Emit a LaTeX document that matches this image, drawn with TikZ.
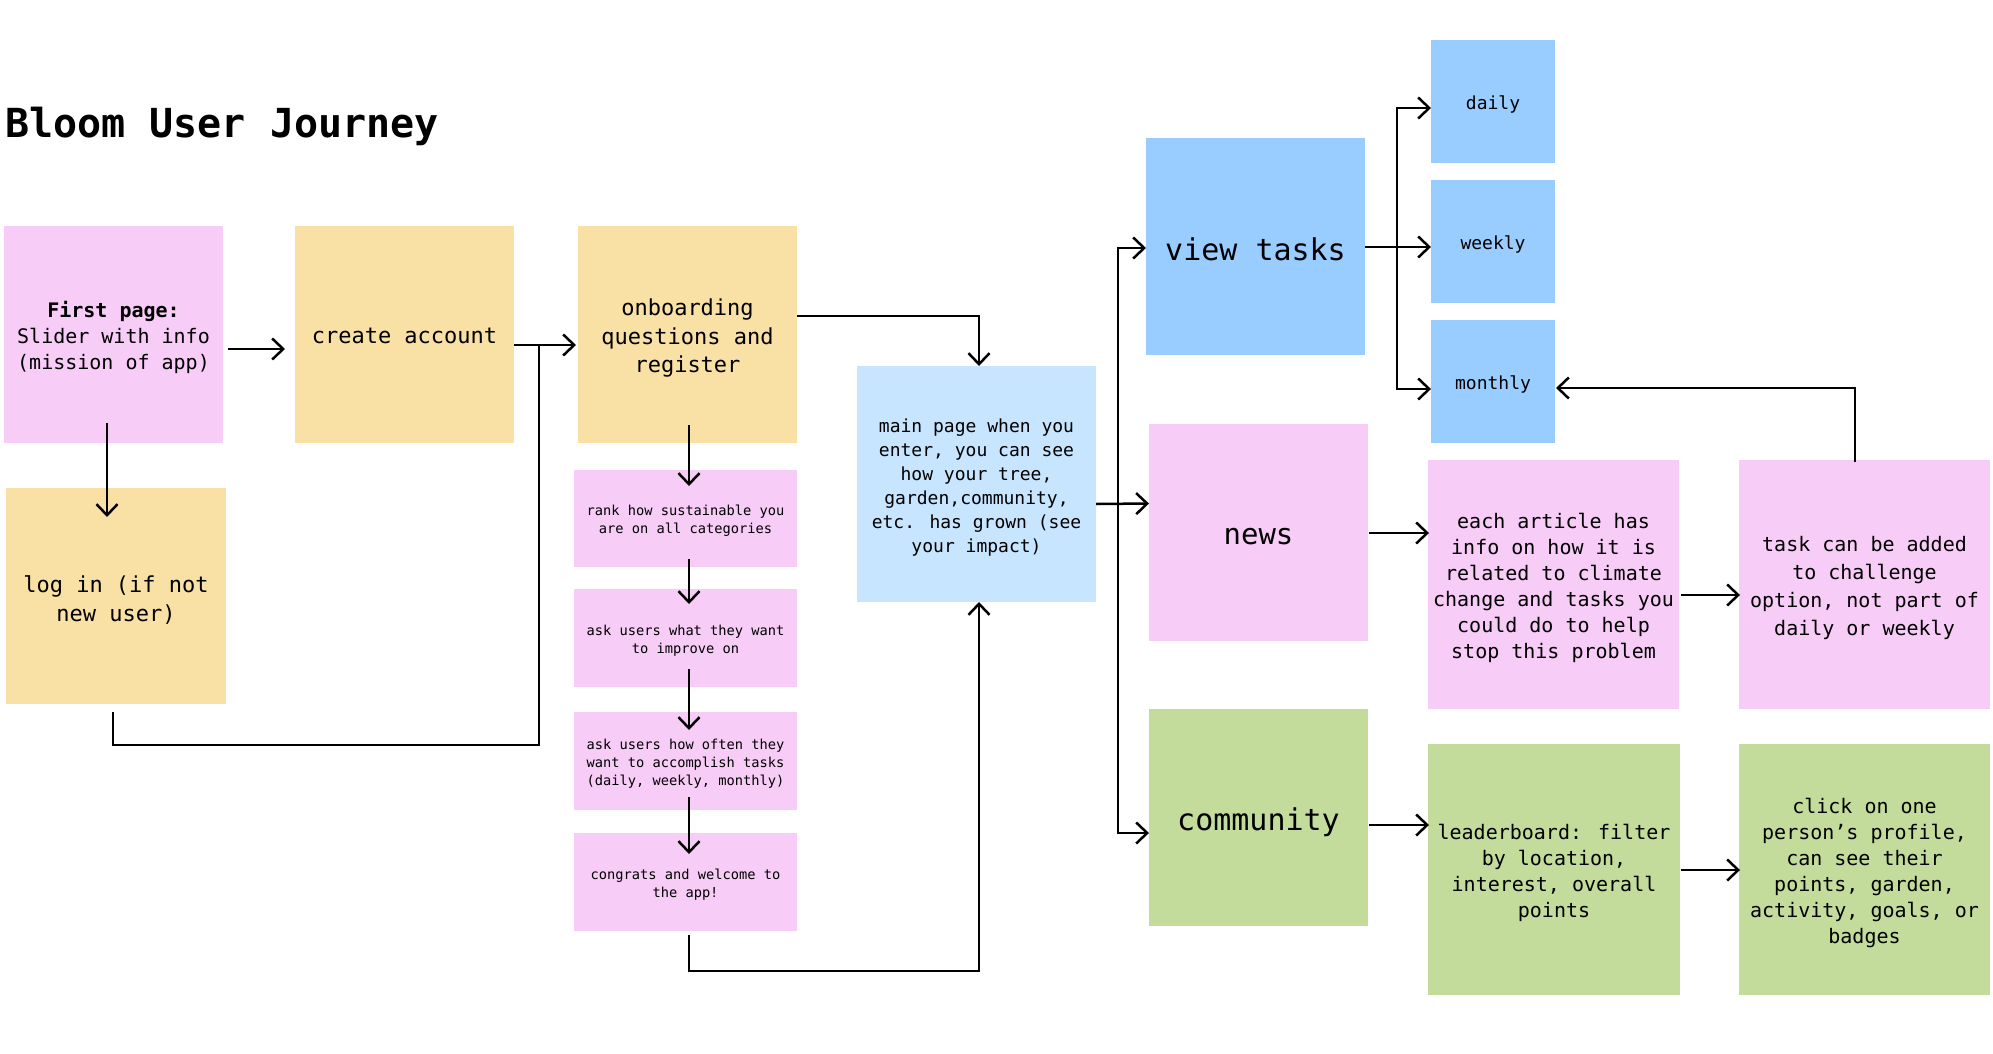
\documentclass[tikz,border=0pt]{standalone}
\usepackage{fontspec}
\setmainfont{DejaVu Sans Mono}
\usetikzlibrary{arrows.meta}
\definecolor{stpink}{HTML}{F7CCF6}
\definecolor{styellow}{HTML}{F9E1A6}
\definecolor{stblue}{HTML}{99CCFF}
\definecolor{stlblue}{HTML}{C7E5FE}
\definecolor{stgreen}{HTML}{C3DC9B}
\newcommand{\tp}{\rule{0pt}{1.1em}}
\tikzset{
  box/.style={anchor=north west, inner sep=0pt, outer sep=0pt, align=center, text=black},
  wire/.style={line width=2.5pt, line join=miter},
  conn/.style={wire, -{Straight Barb[length=11pt,width=21pt]}},
  fbig/.style={font=\fontsize{22}{28.5}\selectfont},
  fmid/.style={font=\fontsize{20}{26}\selectfont},
  fmain/.style={font=\fontsize{18}{24}\selectfont},
  fsmall/.style={font=\fontsize{13.7}{18}\selectfont},
  fhead/.style={font=\fontsize{30}{36}\selectfont}
}
\begin{document}
\begin{tikzpicture}[x=1pt,y=-1pt]
\useasboundingbox (0,0) rectangle (1993,1054);
\fill[white] (0,0) rectangle (1993,1054);

\node[anchor=base west, inner sep=0pt, font=\fontsize{40}{48}\selectfont\bfseries] (title) at (5,138) {Bloom User Journey};

% left column
\node[box, fill=stpink, minimum width=219pt, minimum height=217pt, fmid] (first) at (4,226) {\tp\textbf{First page:}\\Slider with info\\(mission of app)};
\node[box, fill=styellow, minimum width=219pt, minimum height=217pt, fbig] (create) at (295,226) {\rule{0pt}{18pt}create account};
\node[box, fill=styellow, minimum width=219pt, minimum height=217pt, fbig] (onb) at (578,226) {\tp onboarding\\questions and\\register};
\node[box, fill=styellow, minimum width=220pt, minimum height=216pt, font=\fontsize{22}{29}\selectfont] (login) at (6,488) {\tp log in (if not\\new user)};

% onboarding steps
\node[box, fill=stpink, minimum width=223pt, minimum height=97pt, fsmall] (rank) at (574,470) {\tp rank how sustainable you\\are on all categories};
\node[box, fill=stpink, minimum width=223pt, minimum height=98pt, fsmall] (ask1) at (574,589) {\tp ask users what they want\\to improve on};
\node[box, fill=stpink, minimum width=223pt, minimum height=98pt, fsmall] (ask2) at (574,712) {\tp ask users how often they\\want to accomplish tasks\\(daily, weekly, monthly)};
\node[box, fill=stpink, minimum width=223pt, minimum height=98pt, fsmall] (congrats) at (574,833) {\tp congrats and welcome to\\the app!};

% main page
\node[box, fill=stlblue, minimum width=239pt, minimum height=236pt, fmain] (main) at (857,366) {\tp main page when you\\enter, you can see\\how your tree,\\garden,community,\\etc. has grown (see\\your impact)};

% right side
\node[box, fill=stblue, minimum width=219pt, minimum height=217pt, fhead] (view) at (1146,138) {\rule{0pt}{27.8pt}view tasks};
\node[box, fill=stblue, minimum width=124pt, minimum height=123pt, fmain] (daily) at (1431,40) {\tp daily};
\node[box, fill=stblue, minimum width=124pt, minimum height=123pt, fmain] (weekly) at (1431,180) {\tp weekly};
\node[box, fill=stblue, minimum width=124pt, minimum height=123pt, fmain] (monthly) at (1431,320) {\tp monthly};

\node[box, fill=stpink, minimum width=219pt, minimum height=217pt, font=\fontsize{29}{35}\selectfont] (news) at (1149,424) {\rule{0pt}{23.8pt}news};
\node[box, fill=stpink, minimum width=251pt, minimum height=249pt, fmid] (article) at (1428,460) {\tp each article has\\info on how it is\\related to climate\\change and tasks you\\could do to help\\stop this problem};
\node[box, fill=stpink, minimum width=251pt, minimum height=249pt, font=\fontsize{20}{28}\selectfont] (task) at (1739,460) {\tp task can be added\\to challenge\\option, not part of\\daily or weekly};

\node[box, fill=stgreen, minimum width=219pt, minimum height=217pt, fhead] (community) at (1149,709) {\tp community};
\node[box, fill=stgreen, minimum width=252pt, minimum height=251pt, fmid] (leader) at (1428,744) {\tp leaderboard: filter\\by location,\\interest, overall\\points};
\node[box, fill=stgreen, minimum width=251pt, minimum height=251pt, fmid] (click) at (1739,744) {\tp click on one\\person’s profile,\\can see their\\points, garden,\\activity, goals, or\\badges};

% helper coordinates
\coordinate (j1) at (539,745);
\coordinate (j2) at (539,345);
\coordinate (c1) at (979,971);
\coordinate (trunk) at (1118,504);
\coordinate (fork) at (1397,247);

% connectors
\draw[conn] ([xshift=5pt,yshift=-14.5pt]first.east) -- ([xshift=-10pt,yshift=-14.5pt]create.west);
\draw[conn] ([yshift=-10.5pt]create.east) -- ([xshift=-2pt,yshift=-10.5pt]onb.west);
\draw[wire] ([xshift=-3pt,yshift=-8pt]login.south) |- (j1) -- (j2);
\draw[conn] ([xshift=-6.5pt,yshift=20pt]first.south) -- ([xshift=-9pt,yshift=-29pt]login.north);

\draw[conn] ([yshift=18.5pt]onb.east) -| ([xshift=2.5pt]main.north);
\draw[conn] ([xshift=1.5pt,yshift=18pt]onb.south) -- ([xshift=3.5pt,yshift=-16pt]rank.north);
\draw[conn] ([xshift=3.5pt,yshift=8pt]rank.south) -- ([xshift=3.5pt,yshift=-15pt]ask1.north);
\draw[conn] ([xshift=3.5pt,yshift=18pt]ask1.south) -- ([xshift=3.5pt,yshift=-18pt]ask2.north);
\draw[conn] ([xshift=3.5pt,yshift=13pt]ask2.south) -- ([xshift=3.5pt,yshift=-21pt]congrats.north);
\draw[conn] ([xshift=3.5pt,yshift=-4pt]congrats.south) |- (c1) -- ([xshift=2.5pt]main.south);

\draw[conn] ([yshift=-20pt]main.east) -- ([yshift=29pt]news.west);
\draw[conn] (trunk) |- ([yshift=-1.5pt]view.west);
\draw[conn] (trunk) |- ([yshift=-15.5pt]community.west);

\draw[wire] ([yshift=-0.5pt]view.east) -- (fork);
\draw[conn] (fork) |- ([yshift=-6.5pt]daily.west);
\draw[conn] (fork) -- ([yshift=-5.5pt]weekly.west);
\draw[conn] (fork) |- ([yshift=-7.5pt]monthly.west);
\draw[conn] ([xshift=-9.5pt,yshift=-2pt]task.north) |- ([xshift=1pt,yshift=-6.5pt]monthly.east);

\draw[conn] ([xshift=1pt,yshift=-0.5pt]news.east) -- ([xshift=1pt,yshift=51.5pt]article.west);
\draw[conn] ([xshift=2pt,yshift=-10.5pt]article.east) -- ([xshift=1pt,yshift=-10.5pt]task.west);
\draw[conn] ([xshift=1pt,yshift=-7.5pt]community.east) -- ([xshift=1pt,yshift=44.5pt]leader.west);
\draw[conn] ([xshift=1pt,yshift=-0.5pt]leader.east) -- ([xshift=1pt,yshift=-0.5pt]click.west);
\end{tikzpicture}
\end{document}
